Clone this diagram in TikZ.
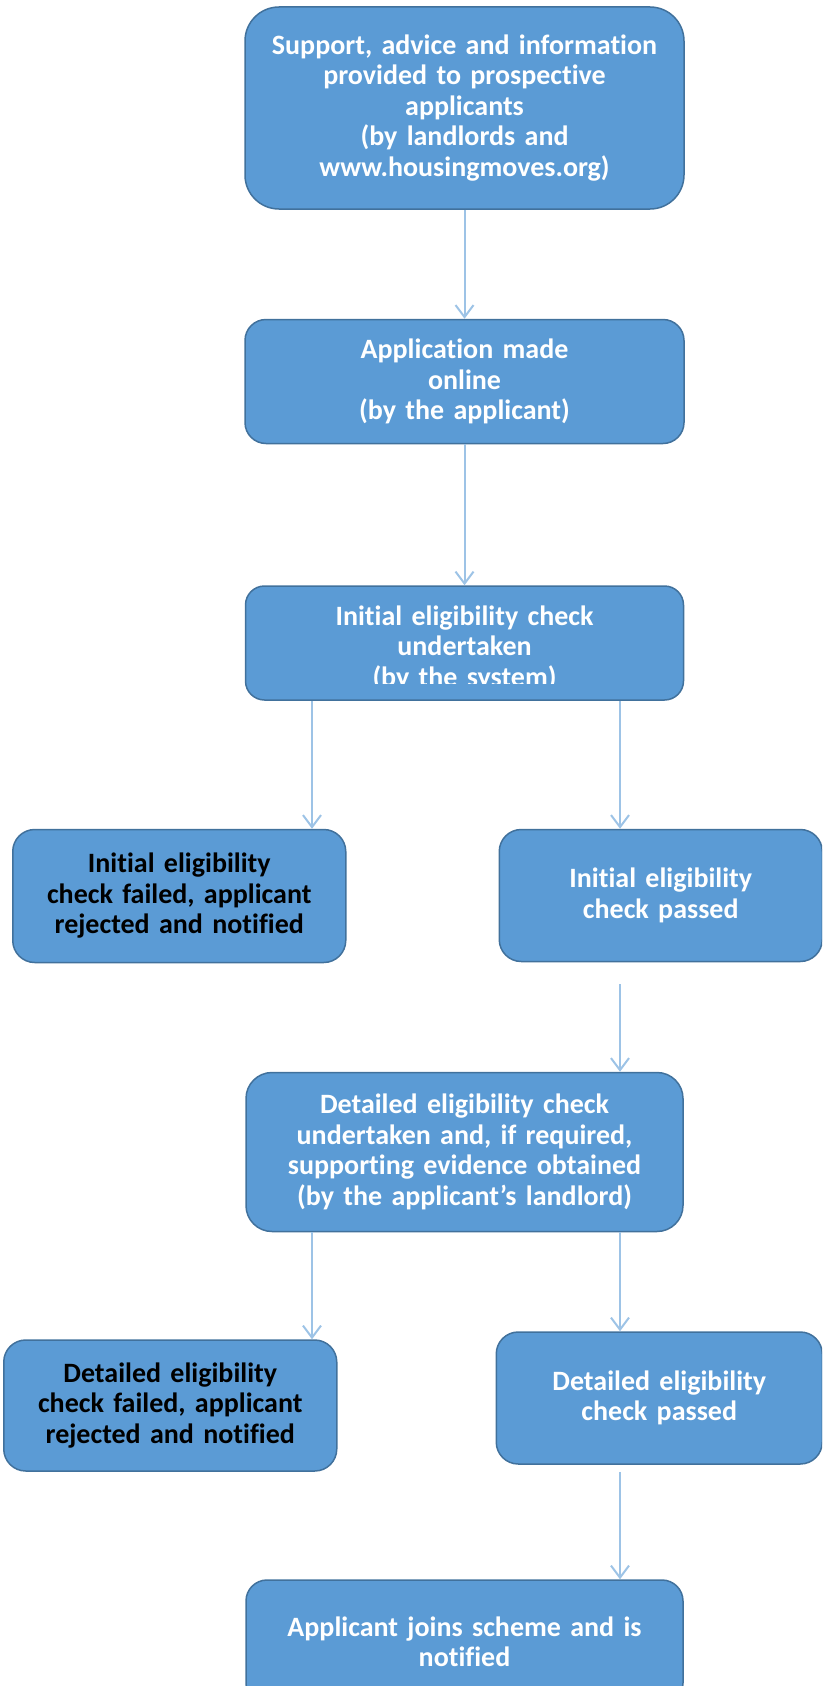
\documentclass[tikz,border=0pt]{standalone}
\usepackage{fontspec}
\setmainfont{Carlito}[Ligatures=NoCommon]
\usepackage{xcolor}
\usepackage{tikz}
\usetikzlibrary{arrows.meta, positioning, calc}

\definecolor{boxfill}{HTML}{5B9BD5}
\definecolor{boxline}{HTML}{41719C}
\definecolor{flowline}{HTML}{9DC3E6}

\begin{document}
\begin{tikzpicture}[
    x=1pt, y=-1pt,
    stage/.style={rectangle, draw=boxline, fill=boxfill, line width=1.5pt, rounded corners=#1, text=white, font=\bfseries\fontsize{28}{30.5}\selectfont, align=center, inner sep=0pt},
    stage/.default=21pt,
    reject/.style={stage=#1, text=black},
    reject/.default=22pt,
    arrow/.style={line width=2pt, draw=flowline, -{Straight Barb[length=12pt,width=18pt]}}
]
\useasboundingbox (0,0) rectangle (822,1686);
\clip (0,0) rectangle (822,1686);

% Main column
\node[stage=34pt, text width=439pt, minimum height=202pt] (support) at (464.5,108) {Support, advice and information\\provided to prospective\\applicants\\(by landlords and\\www.housingmoves.org)};
\node[stage, text width=439pt, minimum height=124pt, below=109pt of support] (application) {Application made\\online\\(by the applicant)};
\node[stage=19pt, text width=438pt, minimum height=114pt, below=141pt of application] (initial) {};
\begin{scope}
  \clip (initial.north west) rectangle ($(initial.south east)+(0,-17)$);
  \node[stage, draw=none, fill=none, text width=438pt, yshift=-5pt] (initialtext) at (initial) {Initial eligibility check\\undertaken\\(by the system)};
\end{scope}

% Initial check outcomes
\node[reject, text width=333pt, minimum height=133pt, below left=128pt and 118pt of initial.south] (initfail) {Initial eligibility\\check failed, applicant\\rejected and notified};
\node[stage=22pt, text width=323pt, minimum height=132pt, below right=128pt and 34pt of initial.south] (initpass) {Initial eligibility\\check passed};

\node[stage=26pt, text width=437pt, minimum height=159pt, below=371pt of initial] (detailed) {Detailed eligibility check\\undertaken and, if required,\\supporting evidence obtained\\(by the applicant’s landlord)};

% Detailed check outcomes
\node[reject, text width=333pt, minimum height=131pt, below left=107pt and 127pt of detailed.south] (detailfail) {Detailed eligibility\\check failed, applicant\\rejected and notified};
\node[stage=22pt, text width=326pt, minimum height=132pt, below right=99pt and 31pt of detailed.south] (detailpass) {Detailed eligibility\\check passed};

\node[stage, text width=437pt, minimum height=124pt, below=347pt of detailed] (join) {Applicant joins scheme and is\\notified};

% Arrows
\coordinate (lcol) at (312,0);
\coordinate (rcol) at (620,0);
\draw[arrow] (support) -- (application);
\draw[arrow] (application) -- (initial);
\draw[arrow] (initial.south -| lcol) -- (initfail.north -| lcol);
\draw[arrow] (initial.south -| rcol) -- (initpass.north -| rcol);
\draw[arrow] ($(initpass.south -| rcol)+(0,22)$) -- (detailed.north -| rcol);
\draw[arrow] (detailed.south -| lcol) -- (detailfail.north -| lcol);
\draw[arrow] (detailed.south -| rcol) -- (detailpass.north -| rcol);
\draw[arrow] ($(detailpass.south -| rcol)+(0,7)$) -- (join.north -| rcol);

\end{tikzpicture}
\end{document}
